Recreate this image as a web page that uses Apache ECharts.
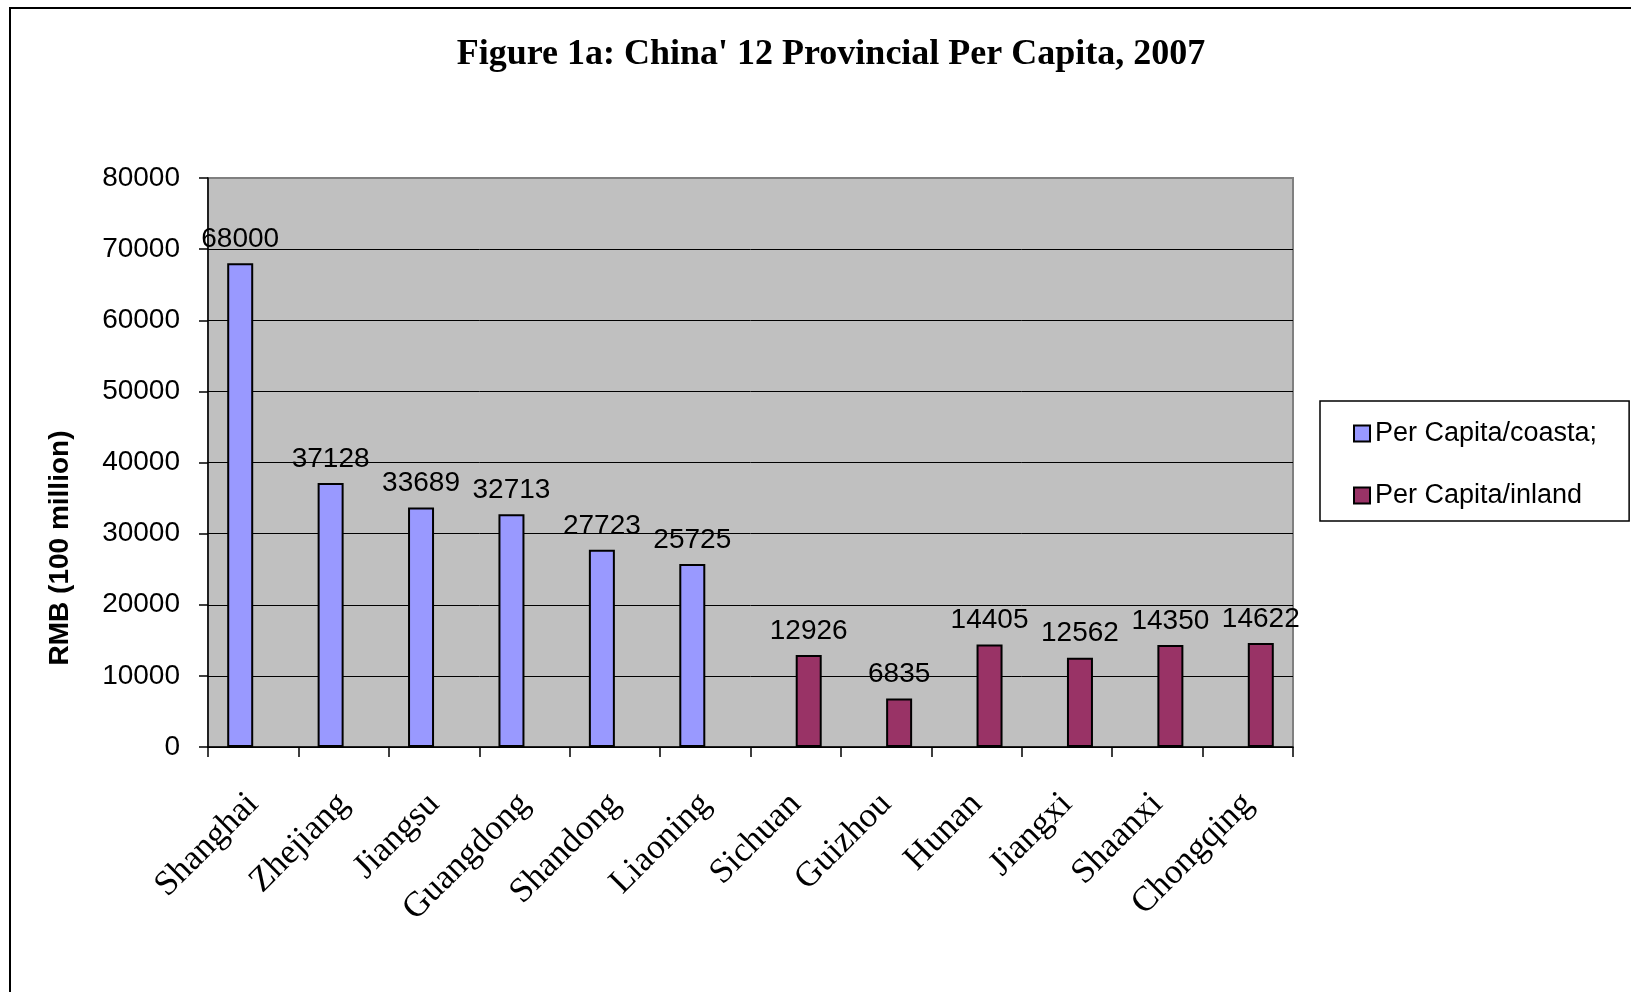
<!DOCTYPE html>
<html>
<head>
<meta charset="utf-8">
<title>China' 12 Provincial Per Capita, 2007</title>
<script src="https://cdn.jsdelivr.net/npm/echarts@6/dist/echarts.min.js"></script>
<style>
  html, body { margin: 0; padding: 0; background: #ffffff; }
  #chart { width: 1631px; height: 992px; }
</style>
</head>
<body>
<div id="chart"></div>
<script>
// Provinces, coastal first then inland
const provinces = ['Shanghai', 'Zhejiang', 'Jiangsu', 'Guangdong', 'Shandong', 'Liaoning',
                   'Sichuan', 'Guizhou', 'Hunan', 'Jiangxi', 'Shaanxi', 'Chongqing'];
// Per capita values, coastal provinces
const coastal = [68000, 37128, 33689, 32713, 27723, 25725, null, null, null, null, null, null];
// Per capita values, inland provinces
const inland = [null, null, null, null, null, null, 12926, 6835, 14405, 12562, 14350, 14622];
// Value axis ticks
const yTicks = [0, 10000, 20000, 30000, 40000, 50000, 60000, 70000, 80000];

const sans = "'Liberation Sans', Arial, sans-serif";
const serif = "'Liberation Serif', 'Times New Roman', serif";

const chart = echarts.init(document.getElementById('chart'), null, { renderer: 'canvas' });

const barLabel = {
  show: true,
  position: 'top',
  distance: 10,
  color: '#000',
  fontFamily: sans,
  fontSize: 28
};

chart.setOption({
  backgroundColor: '#ffffff',
  animation: false,
  title: {
    text: "Figure 1a: China' 12 Provincial Per Capita, 2007",
    left: 826,
    top: 32,
    textAlign: 'center',
    textStyle: { fontFamily: serif, fontWeight: 'bold', fontSize: 36, color: '#000' }
  },
  legend: {
    orient: 'vertical',
    left: 1320,
    top: 401,
    padding: [19, 32, 12, 33],
    itemGap: 35,
    itemWidth: 16,
    itemHeight: 16,
    icon: 'rect',
    borderColor: '#000',
    borderWidth: 1.5,
    backgroundColor: '#ffffff',
    textStyle: { fontFamily: sans, fontSize: 27, color: '#000' },
    itemStyle: { borderColor: '#000', borderWidth: 2 },
    data: ['Per Capita/coasta;', 'Per Capita/inland']
  },
  grid: {
    left: 208,
    right: 338,
    top: 178,
    bottom: 245,
    show: true,
    backgroundColor: '#C0C0C0',
    borderColor: '#808080',
    borderWidth: 2
  },
  xAxis: {
    type: 'category',
    data: provinces,
    boundaryGap: true,
    axisLine: { show: true, lineStyle: { color: '#000', width: 1.5 } },
    axisTick: { show: true, alignWithLabel: false, length: 10, lineStyle: { color: '#000', width: 1.5 } },
    axisLabel: {
      interval: 0,
      rotate: 45,
      margin: 52,
      align: 'right',
      verticalAlign: 'middle',
      fontFamily: serif,
      fontSize: 35,
      color: '#000'
    },
    splitLine: { show: false }
  },
  yAxis: {
    type: 'value',
    min: yTicks[0],
    max: yTicks[yTicks.length - 1],
    interval: yTicks[1] - yTicks[0],
    axisLine: { show: true, lineStyle: { color: '#000', width: 1.5 } },
    axisTick: { show: true, length: 9, lineStyle: { color: '#000', width: 1.5 } },
    axisLabel: {
      margin: 28,
      fontFamily: sans,
      fontSize: 28,
      color: '#000',
      formatter: function (v) { return String(v); }
    },
    splitLine: {
      show: true,
      lineStyle: {
        color: ['#000', '#000', '#000', '#000', '#000', '#000', '#000', '#000', '#808080'],
        width: 1
      }
    }
  },
  series: [
    {
      name: 'Per Capita/coasta;',
      type: 'bar',
      data: coastal,
      barWidth: 26,
      barGap: '0%',
      itemStyle: { color: '#9999FF', borderColor: '#000', borderWidth: 2 },
      label: barLabel
    },
    {
      name: 'Per Capita/inland',
      type: 'bar',
      data: inland,
      barWidth: 26,
      barGap: '0%',
      itemStyle: { color: '#993366', borderColor: '#000', borderWidth: 2 },
      label: barLabel
    }
  ],
  graphic: [
    {
      type: 'rect',
      silent: true,
      shape: { x: 10, y: 8, width: 1700, height: 1100 },
      style: { fill: 'none', stroke: '#000', lineWidth: 2 }
    },
    {
      type: 'text',
      x: 60,
      y: 548,
      rotation: Math.PI / 2,
      style: {
        text: 'RMB (100 million)',
        fontFamily: sans,
        fontWeight: 'bold',
        fontSize: 28,
        fill: '#000',
        align: 'center',
        verticalAlign: 'middle'
      }
    }
  ]
});
</script>
</body>
</html>
